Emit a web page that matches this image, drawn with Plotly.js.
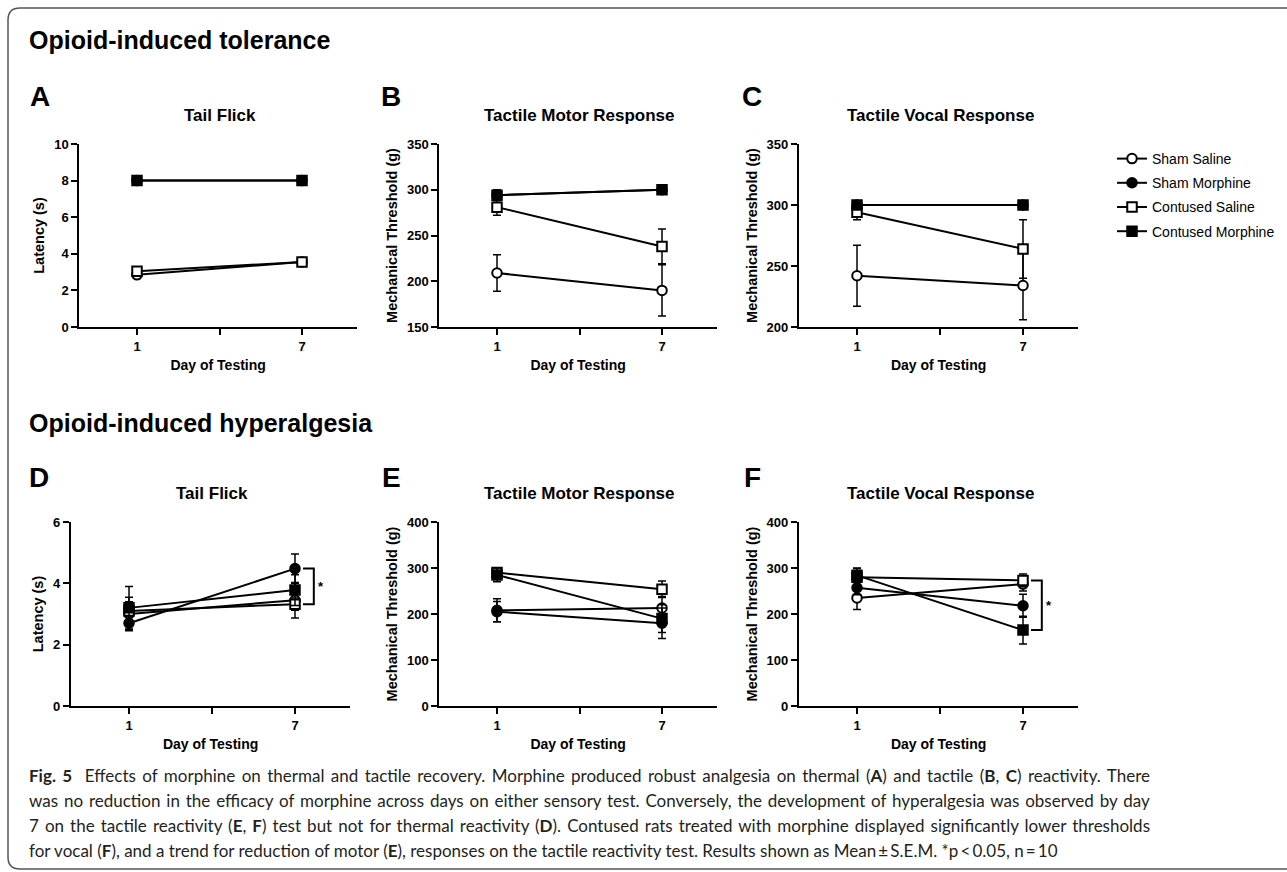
<!DOCTYPE html>
<html><head><meta charset="utf-8">
<script src="https://cdn.plot.ly/plotly-3.0.1.min.js"></script>
<style>html,body{margin:0;padding:0;background:#fff;} #chart{width:1287px;height:872px;}</style>
</head><body><div id="chart"></div>
<script>
// ---------- data ----------
const days = [1, 7];
const seriesNames = ['Sham Saline', 'Sham Morphine', 'Contused Saline', 'Contused Morphine'];
const dayTickVals = [1, 4, 7];
const dayTickText = ['1', '', '7'];

// Panel A – Tail Flick (tolerance), latency (s); order = seriesNames
const A_means = [[2.85, 3.55], [8, 8], [3.05, 3.55], [8, 8]];
const A_sems  = [[0.15, 0.15], [0, 0], [0.1, 0.15], [0, 0]];
// Panel B – Tactile Motor Response (tolerance), threshold (g)
const B_means = [[209, 190], [294, 300], [281, 238], [294, 300]];
const B_sems  = [[20, 28], [6, 0], [9, 19], [5, 0]];
// Panel C – Tactile Vocal Response (tolerance)
const C_means = [[242, 234], [300, 300], [294, 264], [300, 300]];
const C_sems  = [[25, 28], [0, 0], [6, 24], [0, 0]];
// Panel D – Tail Flick (hyperalgesia)
const D_means = [[3.0, 3.45], [2.7, 4.48], [3.1, 3.32], [3.2, 3.78]];
const D_sems  = [[0.55, 0.58], [0.2, 0.48], [0.3, 0.2], [0.7, 0.5]];
// Panel E – Tactile Motor Response (hyperalgesia)
const E_means = [[208, 213], [205, 180], [290, 254], [285, 190]];
const E_sems  = [[25, 25], [22, 33], [10, 18], [15, 30]];
// Panel F – Tactile Vocal Response (hyperalgesia)
const F_means = [[235, 265], [257, 218], [280, 273], [284, 165]];
const F_sems  = [[25, 15], [15, 25], [20, 14], [15, 30]];

const captionLines = [
  '<b>Fig. 5</b>&nbsp;&nbsp;Effects of morphine on thermal and tactile recovery. Morphine produced robust analgesia on thermal (<b>A</b>) and tactile (<b>B</b>, <b>C</b>) reactivity. There',
  'was no reduction in the efficacy of morphine across days on either sensory test. Conversely, the development of hyperalgesia was observed by day',
  '7 on the tactile reactivity (<b>E</b>, <b>F</b>) test but not for thermal reactivity (<b>D</b>). Contused rats treated with morphine displayed significantly lower thresholds',
  'for vocal (<b>F</b>), and a trend for reduction of motor (<b>E</b>), responses on the tactile reactivity test. Results shown as Mean\u2009±\u2009S.E.M. *p\u2009<\u20090.05, n\u2009=\u200910'
];

// ---------- layout helpers ----------
const W = 1287, H = 872;
const fx = p => p / W, fy = p => 1 - p / H;
const FONT = 'Liberation Sans, Arial, Helvetica, sans-serif';
const XRANGE = [-1.1, 9];
const CAPTION_LEFT = 27, CAPTION_RIGHT = 1148;

const seriesStyle = [
  {symbol: 'circle', fill: 'white'},
  {symbol: 'circle', fill: 'black'},
  {symbol: 'square', fill: 'white'},
  {symbol: 'square', fill: 'black'}
];

const panels = [
  {letter: 'A', means: A_means, sems: A_sems, title: 'Tail Flick', ytitle: 'Latency (s)', yrange: [0, 10], dtick: 2, p1: 137, p7: 302, top: 144, bottom: 327, lx: 40, ly: 97, ty: 116},
  {letter: 'B', means: B_means, sems: B_sems, title: 'Tactile Motor Response', ytitle: 'Mechanical Threshold (g)', yrange: [150, 350], dtick: 50, p1: 497, p7: 662, top: 144, bottom: 327, lx: 391, ly: 97, ty: 116},
  {letter: 'C', means: C_means, sems: C_sems, title: 'Tactile Vocal Response', ytitle: 'Mechanical Threshold (g)', yrange: [200, 350], dtick: 50, p1: 857, p7: 1023, top: 144, bottom: 327, lx: 752, ly: 97, ty: 116},
  {letter: 'D', means: D_means, sems: D_sems, title: 'Tail Flick', ytitle: 'Latency (s)', yrange: [0, 6], dtick: 2, p1: 129, p7: 295, top: 522, bottom: 706, lx: 39, ly: 477, ty: 493},
  {letter: 'E', means: E_means, sems: E_sems, title: 'Tactile Motor Response', ytitle: 'Mechanical Threshold (g)', yrange: [0, 400], dtick: 100, p1: 497, p7: 662, top: 522, bottom: 706, lx: 391, ly: 477, ty: 493},
  {letter: 'F', means: F_means, sems: F_sems, title: 'Tactile Vocal Response', ytitle: 'Mechanical Threshold (g)', yrange: [0, 400], dtick: 100, p1: 857, p7: 1023, top: 522, bottom: 706, lx: 752, ly: 477, ty: 493}
];

const traces = [];
const layout = {
  width: W, height: H,
  margin: {l: 0, r: 0, t: 0, b: 0},
  paper_bgcolor: 'white', plot_bgcolor: 'white',
  showlegend: true,
  legend: {x: fx(1112), y: fy(143), xanchor: 'left', yanchor: 'top',
           font: {family: FONT, size: 14, color: 'black'}, tracegroupgap: 3,
           bgcolor: 'rgba(0,0,0,0)', traceorder: 'grouped', itemwidth: 30},
  annotations: [], shapes: []
};

panels.forEach((p, i) => {
  const n = i + 1;
  const xa = 'xaxis' + (n === 1 ? '' : n), ya = 'yaxis' + (n === 1 ? '' : n);
  const xr = 'x' + (n === 1 ? '' : n), yr = 'y' + (n === 1 ? '' : n);
  const s = (p.p7 - p.p1) / 6;
  const left = p.p1 - (1 - XRANGE[0]) * s, right = p.p7 + (XRANGE[1] - 7) * s;
  layout[xa] = {
    domain: [fx(left), fx(right)], range: XRANGE, anchor: yr,
    showline: true, linewidth: 2, linecolor: 'black', showgrid: false, zeroline: false,
    ticks: 'outside', ticklen: 6, tickwidth: 2, tickcolor: 'black',
    tickvals: dayTickVals, ticktext: dayTickText,
    tickfont: {family: FONT, size: 13, weight: 700, color: 'black'},
    title: {text: 'Day of Testing', font: {family: FONT, size: 14, weight: 700, color: 'black'}, standoff: 8},
    fixedrange: true
  };
  layout[ya] = {
    domain: [fy(p.bottom), fy(p.top)], range: p.yrange, anchor: xr,
    showline: true, linewidth: 2, linecolor: 'black', showgrid: false, zeroline: false,
    ticks: 'outside', ticklen: 6, tickwidth: 2, tickcolor: 'black',
    tick0: p.yrange[0], dtick: p.dtick,
    tickfont: {family: FONT, size: 13, weight: 700, color: 'black'},
    title: {text: p.ytitle, font: {family: FONT, size: 14.5, weight: 700, color: 'black'}, standoff: 6},
    fixedrange: true
  };
  p.means.forEach((m, k) => {
    traces.push({
      type: 'scatter', mode: 'lines+markers', x: days, y: m,
      xaxis: xr, yaxis: yr, name: seriesNames[k], legendgroup: seriesNames[k],
      showlegend: i === 0, cliponaxis: false,
      line: {color: 'black', width: 2},
      marker: {symbol: seriesStyle[k].symbol, size: 9.5, color: seriesStyle[k].fill, line: {color: 'black', width: 2}},
      error_y: {type: 'data', array: p.sems[k], visible: true, color: 'black', thickness: 1.5, width: 4}
    });
  });
  layout.annotations.push({
    xref: 'paper', yref: 'paper', x: fx(p.lx), y: fy(p.ly), xanchor: 'center', yanchor: 'middle',
    text: p.letter, showarrow: false, font: {family: FONT, size: 28, weight: 700, color: 'black'}
  });
  layout.annotations.push({
    xref: 'paper', yref: 'paper', x: fx((p.p1 + p.p7) / 2), y: fy(p.ty), xanchor: 'center', yanchor: 'middle',
    text: p.title, showarrow: false, font: {family: FONT, size: 17, weight: 700, color: 'black'}
  });
});

// significance brackets (D: sham morphine vs contused saline; F: contused saline vs contused morphine)
function bracket(xr, yr, yTop, yBot) {
  layout.shapes.push({type: 'path', xref: xr, yref: yr,
    path: `M 7.29,${yTop} L 7.68,${yTop} L 7.68,${yBot} L 7.29,${yBot}`,
    line: {color: 'black', width: 2}});
  layout.annotations.push({xref: xr, yref: yr, x: 7.95, y: (yTop + yBot) / 2, text: '*', showarrow: false,
    xanchor: 'center', yanchor: 'middle', font: {family: FONT, size: 13, weight: 700, color: 'black'}});
}
bracket('x4', 'y4', D_means[1][1], D_means[2][1]);
bracket('x6', 'y6', F_means[2][1], F_means[3][1]);

// section headings
[['Opioid-induced tolerance', 40], ['Opioid-induced hyperalgesia', 423]].forEach(([t, y]) => {
  layout.annotations.push({xref: 'paper', yref: 'paper', x: fx(27), y: fy(y), xanchor: 'left', yanchor: 'middle',
    text: t, showarrow: false, font: {family: FONT, size: 25, weight: 700, color: 'black'}});
});

// caption
const captionStart = layout.annotations.length;
captionLines.forEach((t, i) => {
  layout.annotations.push({xref: 'paper', yref: 'paper', x: fx(CAPTION_LEFT), y: fy(775 + 25 * i), xanchor: 'left', yanchor: 'middle',
    align: 'left', text: t, showarrow: false, font: {family: 'Lato, Open Sans, sans-serif', size: 17, color: '#231f20'}});
});

// rounded frame
const r = 12, L = 8, T = 8, B = 869, R = 1320;
layout.shapes.push({type: 'path', xref: 'paper', yref: 'paper', layer: 'below',
  path: `M ${fx(R)},${fy(T)} L ${fx(L + r)},${fy(T)} Q ${fx(L)},${fy(T)} ${fx(L)},${fy(T + r)} L ${fx(L)},${fy(B - r)} Q ${fx(L)},${fy(B)} ${fx(L + r)},${fy(B)} L ${fx(R)},${fy(B)}`,
  line: {color: '#555', width: 1.5}});

Plotly.newPlot('chart', traces, layout, {staticPlot: true, displayModeBar: false}).then(gd => {
  // justify the first three caption lines like the printed figure caption
  const texts = gd.querySelectorAll('.infolayer g.annotation text.annotation-text');
  for (let i = 0; i < 3; i++) {
    const el = texts[captionStart + i];
    if (!el) continue;
    const bb = el.getBBox();
    const spaces = (el.textContent.match(/[ \u00a0]/g) || []).length;
    const extra = (CAPTION_RIGHT - CAPTION_LEFT) - bb.width;
    if (spaces > 0 && extra > 0 && extra < 80) el.style.wordSpacing = (extra / spaces) + 'px';
  }
});
</script>
</body></html>
